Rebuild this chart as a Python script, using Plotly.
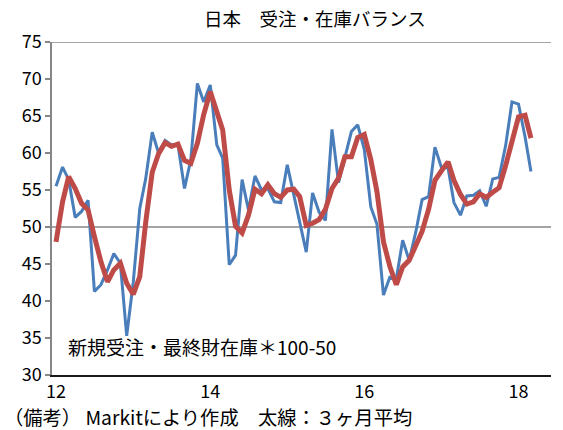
import pandas as pd
import plotly.graph_objects as go

# Monthly series, Jan 2012 - Mar 2018
start_month = "2012-01"
new_orders_inv = [
    55.5, 58.1, 56.4, 51.3, 52.1, 53.6, 41.3, 42.2, 44.2, 46.4, 45.1, 35.3,
    42.5, 52.5, 56.5, 62.8, 60.0, 61.7, 61.1, 61.1, 55.2, 59.1, 69.4, 66.9,
    69.2, 61.1, 59.3, 44.9, 46.2, 56.4, 52.3, 56.9, 55.0, 55.2, 53.4, 53.3,
    58.4, 54.2, 50.5, 46.6, 54.6, 52.0, 50.9, 63.2, 56.0, 59.5, 62.9, 63.8,
    60.5, 52.7, 50.4, 40.8, 43.2, 43.0, 48.2, 45.5, 49.3, 53.7, 54.1, 60.8,
    58.0, 58.0, 53.3, 51.6, 54.2, 54.3, 54.9, 52.8, 56.5, 56.7, 61.0, 66.9,
    66.6, 62.2, 57.5,
]
avg_3m = [
    48.0, 53.4, 56.8, 55.2, 53.2, 52.3, 48.7, 45.3, 42.6, 44.2, 45.1, 42.4,
    40.9, 43.3, 50.6, 57.4, 59.9, 61.4, 60.9, 61.2, 59.0, 58.6, 61.3, 65.2,
    68.3, 65.6, 63.1, 55.0, 50.1, 49.2, 51.6, 55.1, 54.5, 55.7, 54.5, 54.0,
    55.0, 55.1, 54.1, 50.2, 50.5, 51.0, 52.4, 55.2, 56.6, 59.5, 59.5, 62.1,
    62.5, 59.1, 54.8, 48.0, 44.7, 42.2, 44.6, 45.5, 47.6, 49.4, 52.4, 56.3,
    57.6, 58.8, 56.3, 54.4, 53.1, 53.4, 54.5, 54.0, 54.7, 55.3, 58.3, 61.7,
    64.9, 65.1, 62.0,
]
tick_dates = ["2012-01-01", "2014-01-01", "2016-01-01", "2018-01-01"]
tick_labels = ["12", "14", "16", "18"]
y_ticks = [30, 35, 40, 45, 50, 55, 60, 65, 70, 75]

months = pd.date_range(start_month, periods=len(new_orders_inv), freq="MS")

FONT = "Noto Sans CJK JP, Noto Sans, sans-serif"

fig = go.Figure()
fig.add_trace(go.Scatter(x=months, y=new_orders_inv, mode="lines",
                         line=dict(color="#4a7ebb", width=3), showlegend=False))
fig.add_trace(go.Scatter(x=months, y=avg_3m, mode="lines",
                         line=dict(color="#be4b48", width=5), showlegend=False))

# reference lines at 50 and top border at 75
fig.add_shape(type="line", xref="paper", x0=0, x1=1, yref="y", y0=50, y1=50,
              line=dict(color="#868686", width=1.5), layer="below")
fig.add_shape(type="line", xref="paper", x0=0, x1=1, yref="y", y0=75, y1=75,
              line=dict(color="#868686", width=1.5), layer="below")

fig.update_layout(
    width=563, height=430,
    margin=dict(l=52, r=12, t=42, b=55),
    paper_bgcolor="white", plot_bgcolor="white",
    font=dict(family=FONT, size=18, color="#000000"),
    xaxis=dict(
        range=["2011-12-13", "2018-06-04"],
        tickmode="array", tickvals=tick_dates, ticktext=tick_labels,
        showgrid=False, zeroline=False,
        showline=True, linecolor="#1a1a1a", linewidth=1.5,
        ticks="", tickfont=dict(size=18),
    ),
    yaxis=dict(
        range=[30, 75],
        tickmode="array", tickvals=y_ticks,
        showgrid=False, zeroline=False,
        showline=True, linecolor="#868686", linewidth=1.5,
        ticks="outside", ticklen=5, tickcolor="#868686", tickwidth=1.5,
        tickfont=dict(size=18),
    ),
    annotations=[
        dict(text="日本　受注・在庫バランス", xref="paper", yref="paper",
             x=0.527, y=1.072, xanchor="center", yanchor="middle",
             showarrow=False, font=dict(size=18.5)),
        dict(text="新規受注・最終財在庫＊100-50", xref="paper", yref="y",
             x=0.028, y=33.8, xanchor="left", yanchor="middle",
             showarrow=False, font=dict(size=19)),
        dict(text="（備考） Markitにより作成　太線：３ヶ月平均", xref="paper", yref="paper",
             x=-0.1, y=-0.126, xanchor="left", yanchor="middle",
             showarrow=False, font=dict(size=19.3)),
    ],
)

fig.write_html("out.html")
